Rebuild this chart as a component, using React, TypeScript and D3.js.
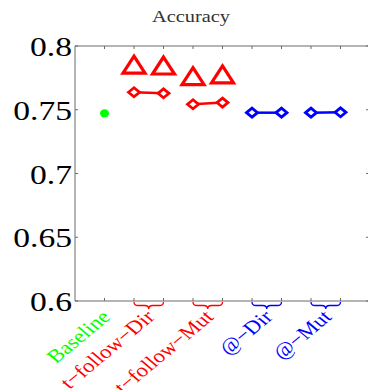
import * as d3 from "d3"

const categories = ["Baseline", "t\u2212follow\u2212Dir", "t\u2212follow\u2212Mut", "@\u2212Dir", "@\u2212Mut"]
const catColors = ["#00ff00", "#ff0000", "#ff0000", "#0000ff", "#0000ff"]
const catCenters = [1, 2.5, 4.5, 6.5, 8.5]
const yTicks = [0.6, 0.65, 0.7, 0.75, 0.8]
const xTicks = [1, 2, 3, 4, 5, 6, 7, 8, 9]

const baselineX = [1]
const baselineVals = [0.7472]
const triX = [2, 3, 4, 5]
const triVals = [0.785, 0.7843, 0.776, 0.7773]
const redPairX = [[2, 3], [4, 5]]
const redPairVals = [[0.7637, 0.7629], [0.7543, 0.7556]]
const bluePairX = [[6, 7], [8, 9]]
const bluePairVals = [[0.7477, 0.7477], [0.7477, 0.748]]
const braceSpans = [[2, 3, "#ff0000"], [4, 5, "#ff0000"], [6, 7, "#0000ff"], [8, 9, "#0000ff"]] as [number, number, string][]

const W = 368, H = 390
const m = { left: 75, top: 46, right: 370, bottom: 301 }
const SX = 1.2
const serif = "'Liberation Serif', 'DejaVu Serif', serif"

export default function App() {
  const x = d3.scaleLinear().domain([0, 10]).range([m.left, m.right])
  const y = d3.scaleLinear().domain([0.6, 0.8]).range([m.bottom, m.top])
  const axisC = "#6b6b6b"
  const diamond = (cx: number, cy: number, col: string, k: string) => (
    <path key={k} d={`M${cx - 5.5},${cy} L${cx},${cy - 4.5} L${cx + 5.5},${cy} L${cx},${cy + 4.5} Z`}
      fill="#fff" stroke={col} strokeWidth={2.8} />
  )
  const brace = (a: number, b: number) => {
    const x0 = x(a), x1 = x(b), mid = (x0 + x1) / 2, y0 = m.bottom + 1, h = 7
    return `M${x0},${y0} Q${x0},${y0 + h / 2} ${x0 + 4},${y0 + h / 2} L${mid - 4},${y0 + h / 2} Q${mid},${y0 + h / 2} ${mid},${y0 + h}` +
      ` Q${mid},${y0 + h / 2} ${mid + 4},${y0 + h / 2} L${x1 - 4},${y0 + h / 2} Q${x1},${y0 + h / 2} ${x1},${y0}`
  }
  return (
    <svg width={W} height={H} style={{ position: "absolute", left: 0, top: 0, background: "#fff" }}>
      <text transform={`translate(191,22) scale(${SX},1)`} textAnchor="middle" fontFamily={serif} fontSize={17} fill="#333">Accuracy</text>

      {/* axes box */}
      <path d={`M${m.left},${m.top} L${m.right},${m.top} M${m.left},${m.top} L${m.left},${m.bottom} L${m.right},${m.bottom} M${m.right},${m.top} L${m.right},${m.bottom}`}
        fill="none" stroke={axisC} strokeWidth={1} />
      {xTicks.map(t => (
        <g key={"xt" + t}>
          <line x1={x(t)} x2={x(t)} y1={m.bottom} y2={m.bottom - 3} stroke={axisC} />
          <line x1={x(t)} x2={x(t)} y1={m.top} y2={m.top + 3} stroke={axisC} />
        </g>
      ))}
      {yTicks.map(t => (
        <g key={"yt" + t}>
          <line x1={m.left} x2={m.left + 3} y1={y(t)} y2={y(t)} stroke={axisC} />
          <line x1={m.right} x2={m.right - 4} y1={y(t)} y2={y(t)} stroke={axisC} />
          <text transform={`translate(72,${y(t) + 10}) scale(${SX},1)`} textAnchor="end" fontFamily={serif} fontSize={28} fill="#000">{String(t)}</text>
        </g>
      ))}

      {/* braces */}
      {braceSpans.map(([a, b, c], i) => (
        <path key={"br" + i} d={brace(a, b)} fill="none" stroke={c} strokeWidth={1.3} />
      ))}

      {/* category labels */}
      {categories.map((c, i) => (
        <text key={c} transform={`translate(${x(catCenters[i]) + 7},318) scale(${SX},1) rotate(-45)`}
          textAnchor="end" fontFamily={serif} fontSize={19} fill={catColors[i]}>{c}</text>
      ))}

      {/* baseline */}
      {baselineVals.map((v, i) => (
        <ellipse key={"b" + i} cx={x(baselineX[i])} cy={y(v)} rx={4.5} ry={4} fill="#00ff00" />
      ))}

      {/* triangles */}
      {triVals.map((v, i) => {
        const cx = x(triX[i]), cy = y(v)
        return <path key={"t" + i} d={`M${cx},${cy - 9} L${cx + 11},${cy + 8} L${cx - 11},${cy + 8} Z`}
          fill="none" stroke="#ff0000" strokeWidth={3.2} strokeLinejoin="miter" />
      })}

      {/* red pairs */}
      {redPairVals.map((vs, i) => (
        <g key={"r" + i}>
          <line x1={x(redPairX[i][0])} x2={x(redPairX[i][1])} y1={y(vs[0])} y2={y(vs[1])} stroke="#ff0000" strokeWidth={2.5} />
          {vs.map((v, j) => diamond(x(redPairX[i][j]), y(v), "#ff0000", "rd" + i + j))}
        </g>
      ))}

      {/* blue pairs */}
      {bluePairVals.map((vs, i) => (
        <g key={"bl" + i}>
          <line x1={x(bluePairX[i][0])} x2={x(bluePairX[i][1])} y1={y(vs[0])} y2={y(vs[1])} stroke="#0000ff" strokeWidth={2.5} />
          {vs.map((v, j) => diamond(x(bluePairX[i][j]), y(v), "#0000ff", "bd" + i + j))}
        </g>
      ))}
    </svg>
  )
}
